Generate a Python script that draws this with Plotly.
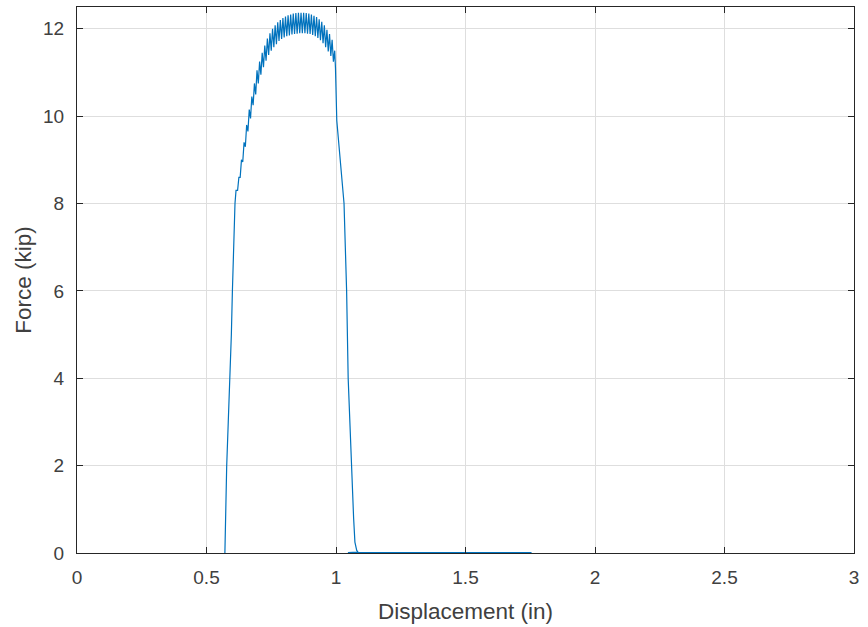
import plotly.graph_objects as go

# Initial loading branch (displacement in, force kip)
rise_x = [0.571, 0.574, 0.578, 0.584, 0.591, 0.596, 0.600, 0.605, 0.610, 0.614]
rise_y = [0.0, 1.0, 2.0, 3.0, 4.0, 5.0, 6.0, 7.1, 8.0, 8.3]

# Oscillating plateau: trough and peak readings
trough_x = [0.620, 0.630, 0.640, 0.650, 0.660, 0.670, 0.680, 0.690, 0.700, 0.710,
            0.720, 0.730, 0.740, 0.750, 0.760, 0.770, 0.780, 0.790, 0.800, 0.810,
            0.820, 0.830, 0.840, 0.850, 0.860, 0.870, 0.880, 0.890, 0.900, 0.910,
            0.920, 0.930, 0.940, 0.950, 0.960, 0.970, 0.980, 0.990]
trough_y = [8.30, 8.60, 8.95, 9.30, 9.65, 9.95, 10.25, 10.50, 10.75, 10.95,
            11.12, 11.27, 11.40, 11.50, 11.58, 11.65, 11.72, 11.77, 11.80, 11.83,
            11.85, 11.87, 11.88, 11.89, 11.90, 11.90, 11.90, 11.89, 11.88, 11.86,
            11.83, 11.79, 11.74, 11.67, 11.58, 11.48, 11.38, 11.25]
peak_x = [0.625, 0.635, 0.645, 0.655, 0.665, 0.675, 0.685, 0.695, 0.705, 0.715,
          0.725, 0.735, 0.745, 0.755, 0.765, 0.775, 0.785, 0.795, 0.805, 0.815,
          0.825, 0.835, 0.845, 0.855, 0.865, 0.875, 0.885, 0.895, 0.905, 0.915,
          0.925, 0.935, 0.945, 0.955, 0.965, 0.975, 0.985, 0.995]
peak_y = [8.60, 9.00, 9.40, 9.80, 10.15, 10.45, 10.75, 11.05, 11.25, 11.45,
          11.62, 11.78, 11.90, 12.00, 12.08, 12.15, 12.20, 12.25, 12.28, 12.31,
          12.33, 12.35, 12.36, 12.37, 12.37, 12.37, 12.36, 12.35, 12.33, 12.30,
          12.27, 12.22, 12.16, 12.08, 11.98, 11.88, 11.75, 11.50]

# Unloading branch and residual tail
fall_x = [0.998, 1.003, 1.015, 1.031, 1.036, 1.041, 1.047, 1.055, 1.060, 1.068,
          1.073, 1.080, 1.085, 1.046, 1.300, 1.500, 1.755]
fall_y = [11.10, 9.90, 9.00, 8.00, 7.00, 6.00, 4.00, 2.60, 2.00, 0.80,
          0.25, 0.06, 0.02, 0.01, 0.01, 0.01, 0.01]

xs = list(rise_x)
ys = list(rise_y)
for tx, ty, px, py in zip(trough_x, trough_y, peak_x, peak_y):
    xs += [tx, px]
    ys += [ty, py]
xs += fall_x
ys += fall_y

x_ticks = [0, 0.5, 1, 1.5, 2, 2.5, 3]
x_tick_text = ["0", "0.5", "1", "1.5", "2", "2.5", "3"]
y_ticks = [0, 2, 4, 6, 8, 10, 12]

axis_col = "#262626"
label_col = "#404040"
grid_col = "#dedede"
font_family = "Liberation Sans, Arial, Helvetica, sans-serif"

fig = go.Figure()
fig.add_trace(go.Scatter(x=xs, y=ys, mode="lines",
                         line=dict(color="#0072BD", width=1.2), showlegend=False))

common = dict(showline=True, linecolor=axis_col, linewidth=1, mirror="allticks",
              ticks="inside", ticklen=6, tickcolor=axis_col, tickwidth=1,
              showgrid=True, gridcolor=grid_col, gridwidth=1, zeroline=False,
              automargin=False,
              tickfont=dict(family=font_family, size=19, color=label_col))

fig.update_xaxes(range=[0, 3], tickvals=x_ticks, ticktext=x_tick_text,
                 title=dict(text="Displacement (in)",
                            font=dict(family=font_family, size=22.5, color=label_col),
                            standoff=16),
                 ticklabelstandoff=7, **common)
fig.update_yaxes(range=[0, 12.5], tickvals=y_ticks,
                 title=dict(text="Force (kip)",
                            font=dict(family=font_family, size=22.5, color=label_col),
                            standoff=5),
                 ticklabelstandoff=8, **common)

fig.update_layout(width=868, height=627, margin=dict(l=77, r=14, t=7, b=74),
                  plot_bgcolor="white", paper_bgcolor="white")

fig.write_html("out.html", config={"displayModeBar": False},
               post_script="document.body.style.margin='0';document.body.style.overflow='hidden';")
